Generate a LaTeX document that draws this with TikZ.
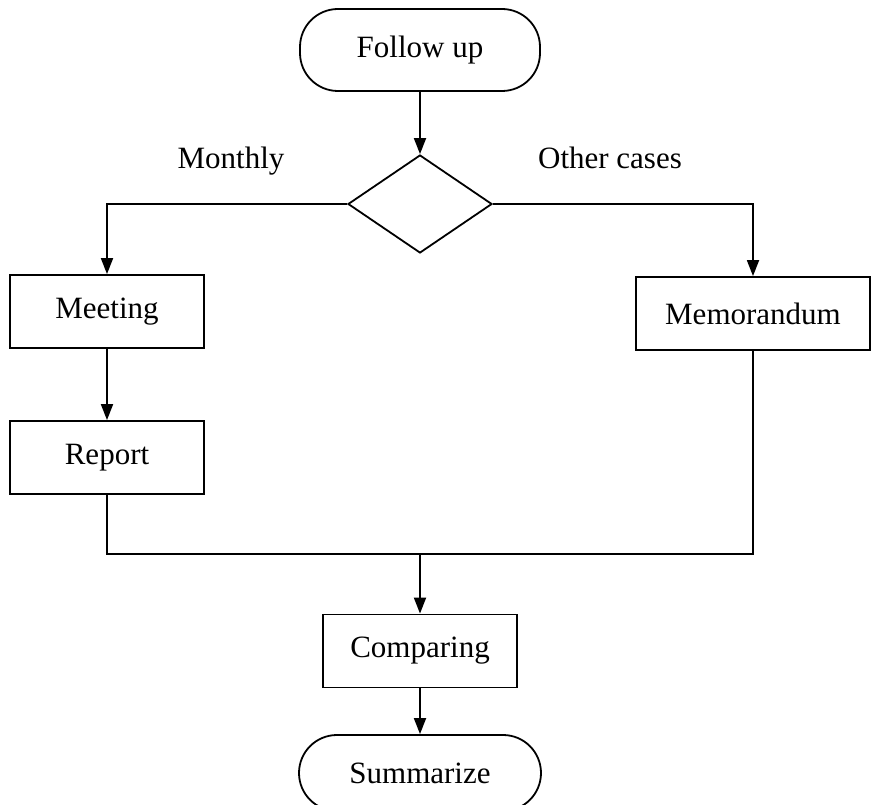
\documentclass[tikz,border=0pt]{standalone}
\usepackage{fontspec}
\setmainfont{Liberation Serif}
\usetikzlibrary{arrows.meta,shapes.geometric}
\begin{document}
\begin{tikzpicture}[x=1pt,y=-1pt,line width=1.8pt,
  txt/.style={font=\fontsize{31}{37}\selectfont},
  box/.style={draw,rectangle,txt,minimum width=194pt,minimum height=73pt,inner sep=0pt},
  term/.style={draw,rectangle,txt,rounded corners=38pt,minimum width=240pt,minimum height=82pt,inner sep=0pt},
  dec/.style={draw,diamond,minimum width=144pt,minimum height=98pt,inner sep=0pt},
  arr/.style={-{Triangle[length=16pt,width=12pt]}},
  lab/.style={txt,inner sep=0pt,anchor=base}]
\useasboundingbox (0,0) rectangle (871,805);
\node[term] (fu) at (420,50) {Follow up};
\node[dec] (d) at (420,204) {};
\node[lab] (mon) at (231,169) {Monthly};
\node[lab] (oth) at (610,169) {Other cases};
\node[box] (meet) at (107,311.5) {Meeting};
\node[box] (rep) at (107,457.5) {Report};
\node[box,minimum width=234pt] (mem) at (753,313.5) {Memorandum};
\node[box] (cmp) at (420,651) {Comparing};
\node[term,minimum width=242pt,minimum height=76pt] (sum) at (420,773) {Summarize};
\coordinate (jm) at (420,554);
\draw[arr] (fu.south) -- (d.north);
\draw[arr] (d.west) -| (meet.north);
\draw[arr] (d.east) -| (mem.north);
\draw[arr] (meet.south) -- (rep.north);
\draw (rep.south) |- (mem.south |- jm) -- (mem.south);
\draw[arr] (jm) -- (cmp.north);
\draw[arr] (cmp.south) -- (sum.north);
\end{tikzpicture}
\end{document}
